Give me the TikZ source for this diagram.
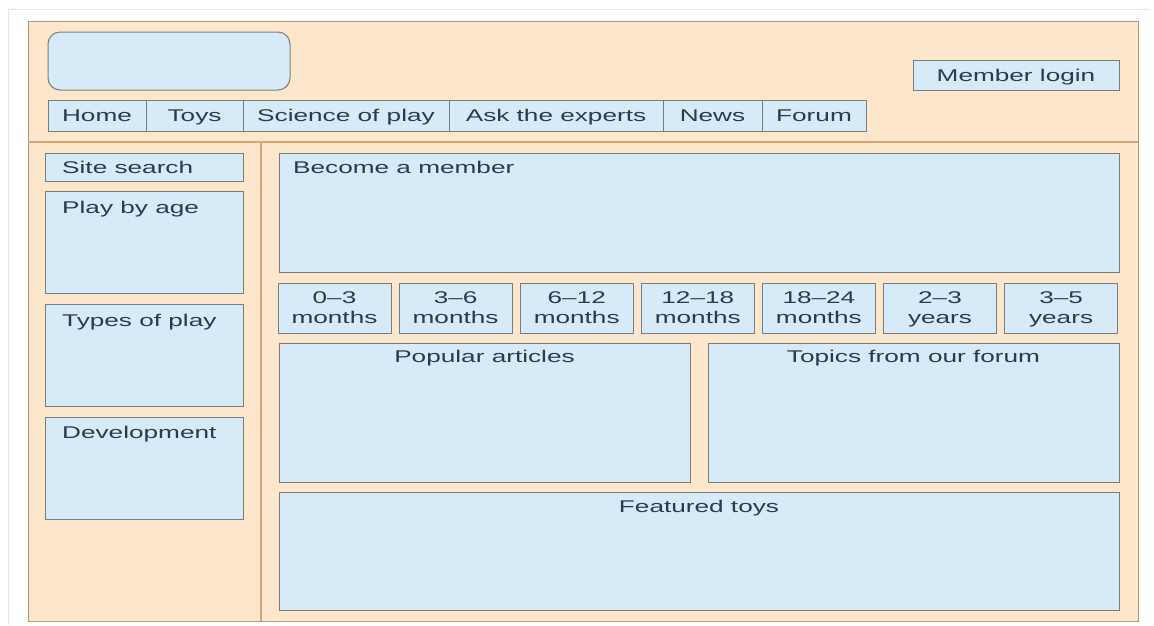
\documentclass[tikz,border=0pt]{standalone}
\usepackage{fontspec}
\setmainfont{Liberation Sans}
\usepackage{graphicx}
\definecolor{peach}{HTML}{FDE7CC}
\definecolor{panel}{HTML}{D6EAF8}
\definecolor{edge}{HTML}{7C7C7C}
\definecolor{frameedge}{HTML}{B8997A}
\definecolor{rule}{HTML}{D9A574}
\definecolor{ink}{HTML}{2B3B4C}
\definecolor{faint}{HTML}{E6E6E6}
% wide sans lettering used throughout the wireframe
\newcommand{\wtxt}[1]{\scalebox{1.54}[1]{#1}}
\newcommand{\twoline}[2]{\wtxt{\begin{tabular}{@{}c@{}}#1\\#2\end{tabular}}}
\tikzset{
  frame/.style={draw=frameedge, fill=peach, line width=1pt, inner sep=0, outer sep=0, anchor=north west},
  panelbox/.style={draw=edge, fill=panel, line width=1pt, inner sep=0, outer sep=0, anchor=north west},
  txtbase/.style={inner sep=0, font=\fontsize{17}{19.5}\selectfont, text=ink},
  % single-line labels: box spans cap height only, so centring uses the caps
  txt/.style={txtbase, text height=12pt, text depth=0pt},
  divider/.style={draw=rule, line width=1.2pt},
  hairline/.style={draw=faint, line width=1pt}
}
\begin{document}
\begin{tikzpicture}[x=1pt, y=-1pt]
\useasboundingbox (0,0) rectangle (1154,625);
\fill[white] (0,0) rectangle (1154,625);

% light outer edge of the page
\coordinate (pgTL) at (8,9);
\coordinate (pgTR) at (1150,9);
\coordinate (pgBL) at (8,625);
\draw[hairline] (pgBL) -- (pgTL) -- (pgTR);

% page frame
\node[frame, minimum width=1110pt, minimum height=600pt] (page) at (28,21) {};

% header / body dividers
\coordinate (hdrL) at (28,142);
\coordinate (hdrR) at (1138,142);
\coordinate (sideT) at (261,142);
\coordinate (sideB) at (261,621);
\draw[divider] (hdrL) -- (hdrR);
\draw[divider] (sideT) -- (sideB);

% logo
\node[panelbox, rounded corners=12pt, minimum width=242pt, minimum height=58pt] (logo) at (48,32) {};

% member login
\node[panelbox, minimum width=206pt, minimum height=30pt] (login) at (913,60) {};
\node[txt] (loginT) at (login.center) {\wtxt{Member login}};

% navigation bar
\node[panelbox, minimum width=98pt, minimum height=31pt] (home) at (48,100) {};
\node[panelbox, minimum width=97pt, minimum height=31pt] (toys) at (146,100) {};
\node[panelbox, minimum width=206pt, minimum height=31pt] (science) at (243,100) {};
\node[panelbox, minimum width=214pt, minimum height=31pt] (experts) at (449,100) {};
\node[panelbox, minimum width=99pt, minimum height=31pt] (news) at (663,100) {};
\node[panelbox, minimum width=104pt, minimum height=31pt] (forum) at (762,100) {};
\node[txt] (homeT) at (home.center) {\wtxt{Home}};
\node[txt] (toysT) at (toys.center) {\wtxt{Toys}};
\node[txt] (scienceT) at (science.center) {\wtxt{Science of play}};
\node[txt] (expertsT) at (experts.center) {\wtxt{Ask the experts}};
\node[txt] (newsT) at (news.center) {\wtxt{News}};
\node[txt] (forumT) at (forum.center) {\wtxt{Forum}};

% left sidebar
\node[panelbox, minimum width=198pt, minimum height=28pt] (search) at (45,153) {};
\node[panelbox, minimum width=198pt, minimum height=102pt] (byage) at (45,191) {};
\node[panelbox, minimum width=198pt, minimum height=102pt] (types) at (45,304) {};
\node[panelbox, minimum width=198pt, minimum height=102pt] (devel) at (45,417) {};
\node[txt, anchor=west] (searchT) at (62,167) {\wtxt{Site search}};
\node[txt, anchor=west] (byageT) at (62,207) {\wtxt{Play by age}};
\node[txt, anchor=west] (typesT) at (62,320) {\wtxt{Types of play}};
\node[txt, anchor=west] (develT) at (62,432) {\wtxt{Development}};

% main column
\node[panelbox, minimum width=840pt, minimum height=119pt] (become) at (279,153) {};
\node[txt, anchor=west] (becomeT) at (293,167) {\wtxt{Become a member}};

\foreach \i/\a/\b in {0/0–3/months, 1/3–6/months, 2/6–12/months, 3/12–18/months,
                      4/18–24/months, 5/2–3/years, 6/3–5/years} {
  \node[panelbox, minimum width=113pt, minimum height=50pt] (age\i) at ({278+121.1*\i},283) {};
  \node[txtbase] (age\i T) at ([yshift=-1.5pt]age\i.center) {\twoline{\a}{\b}};
}

\node[panelbox, minimum width=411pt, minimum height=139pt] (popular) at (279,343) {};
\node[panelbox, minimum width=411pt, minimum height=139pt] (topics) at (708,343) {};
\node[panelbox, minimum width=840pt, minimum height=118pt] (featured) at (279,492) {};
\node[txt] (popularT) at ([yshift=-13pt]popular.north) {\wtxt{Popular articles}};
\node[txt] (topicsT) at ([yshift=-13pt]topics.north) {\wtxt{Topics from our forum}};
\node[txt] (featuredT) at ([yshift=-14pt]featured.north) {\wtxt{Featured toys}};
\end{tikzpicture}
\end{document}
